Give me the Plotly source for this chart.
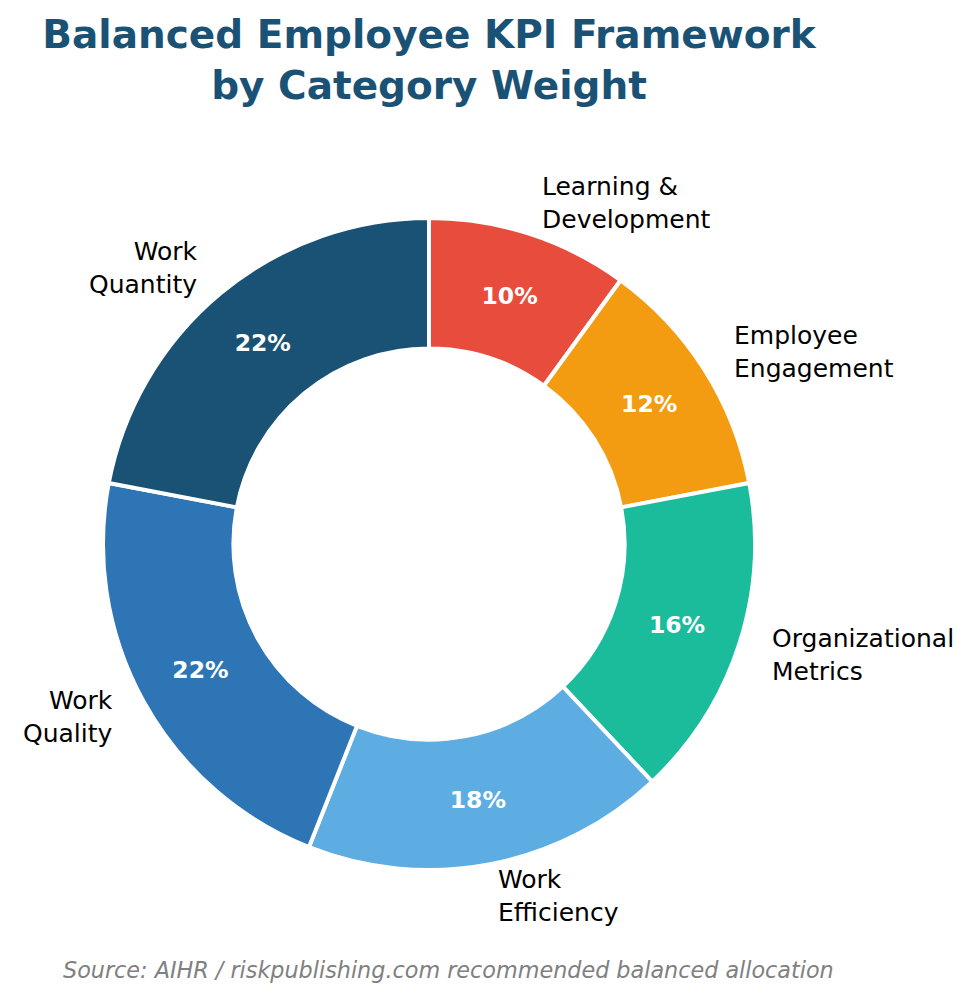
import math
import plotly.graph_objects as go

categories = ["Learning & Development", "Employee Engagement", "Organizational Metrics",
              "Work Efficiency", "Work Quality", "Work Quantity"]
label_text = ["Learning &<br>Development", "Employee<br>Engagement", "Organizational<br>Metrics",
              "Work<br>Efficiency", "Work<br>Quality", "Work<br>Quantity"]
weights = [10, 12, 16, 18, 22, 22]
colors = ["#e74c3c", "#f39c12", "#1abc9c", "#5dade2", "#2e75b6", "#1a5276"]

W, H = 973, 1001
OFF = 8  # page body margin
cx, cy, R = 429 - OFF, 544 - OFF, 326
dom_x = [(cx - R) / W, (cx + R) / W]
dom_y = [(H - cy - R) / H, (H - cy + R) / H]

fig = go.Figure()
fig.add_trace(go.Pie(
    labels=categories, values=weights, sort=False, direction="clockwise", rotation=0,
    hole=0.6, marker=dict(colors=colors, line=dict(color="white", width=4)),
    textinfo="percent", texttemplate="%{percent:.0%}", textposition="inside",
    insidetextorientation="horizontal",
    textfont=dict(family="DejaVu Sans", size=23.5, color="white", weight="bold"),
    domain=dict(x=dom_x, y=dom_y), showlegend=False, hoverinfo="label+percent",
))

total = sum(weights)
cum = 0
rx = (dom_x[1] - dom_x[0]) / 2
ry = (dom_y[1] - dom_y[0]) / 2
mx = (dom_x[0] + dom_x[1]) / 2
my = (dom_y[0] + dom_y[1]) / 2
annotations = []
for lab, w in zip(label_text, weights):
    mid = 90 - 360 * (cum + w / 2) / total
    cum += w
    a = math.radians(mid)
    x = mx + 1.1 * rx * math.cos(a)
    y = my + 1.1 * ry * math.sin(a)
    side = "left" if math.cos(a) > 0 else "right"
    annotations.append(dict(x=x, y=y, xref="paper", yref="paper", text=lab, showarrow=False,
                            xanchor=side, yanchor="middle", align=side,
                            font=dict(family="DejaVu Sans", size=25, color="black")))

annotations.append(dict(x=(448 - OFF) / W, y=1 - (970 - OFF) / H, xref="paper", yref="paper",
                        text="<i>Source: AIHR / riskpublishing.com recommended balanced allocation</i>",
                        showarrow=False, xanchor="center", yanchor="middle",
                        font=dict(family="DejaVu Sans", size=22.3, color="#808080")))

fig.update_layout(
    width=W, height=H, margin=dict(l=0, r=0, t=0, b=0),
    paper_bgcolor="white", plot_bgcolor="white",
    title=dict(text="<b>Balanced Employee KPI Framework<br>by Category Weight</b>",
               x=cx / W, xanchor="center", y=1 - 40 / H, yanchor="middle",
               font=dict(family="DejaVu Sans", size=39, color="#1a5276")),
    annotations=annotations,
    uniformtext=dict(minsize=23, mode="show"),
)

fig.write_html("out.html")
